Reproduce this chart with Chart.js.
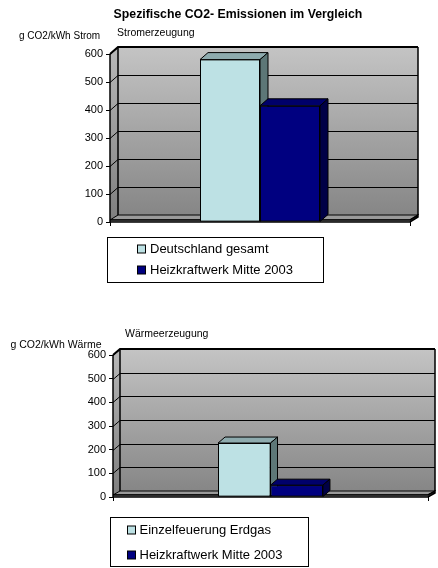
<!DOCTYPE html>
<html>
<head>
<meta charset="utf-8">
<script src="https://cdn.jsdelivr.net/npm/chart.js@4.4.1/dist/chart.umd.min.js"></script>
<style>
  html, body { margin: 0; padding: 0; background: #fff; }
  #wrap { position: relative; width: 438px; height: 568px; }
  canvas { position: absolute; left: 0; }
</style>
</head>
<body>
<div id="wrap">
  <canvas id="strom" width="438" height="290" style="top:0px"></canvas>
  <canvas id="waerme" width="438" height="278" style="top:290px"></canvas>
</div>
<script>
// ---- data ----
const stromCategories = ['Stromerzeugung'];
const stromSeriesLabels = ['Deutschland gesamt', 'Heizkraftwerk Mitte 2003'];
const stromValues = [580, 415];

const waermeCategories = ['Wärmeerzeugung'];
const waermeSeriesLabels = ['Einzelfeuerung Erdgas', 'Heizkraftwerk Mitte 2003'];
const waermeValues = [228, 50];

const yTickLabels = ['0', '100', '200', '300', '400', '500', '600'];

const chartTitle = 'Spezifische CO2- Emissionen im Vergleich';
const stromUnit = 'g CO2/kWh Strom';
const waermeUnit = 'g CO2/kWh Wärme';

// face colours for the two series: front, top, side
const seriesFaces = [
  { front: '#bde1e4', top: '#8eabae', side: '#5d7777' },
  { front: '#000080', top: '#00006a', side: '#000046' }
];

const FONT = '"Liberation Sans", Arial, sans-serif';

// Draws the 3D walls, floor, column tops/sides, texts and a boxed legend
const excel3d = {
  id: 'excel3d',
  beforeDatasetsDraw(chart, args, o) {
    const { ctx, chartArea: a, scales: { y } } = chart;
    const dx = o.dx, dy = o.dy;
    ctx.save();
    // back wall
    const g = ctx.createLinearGradient(0, a.top + dy, 0, a.bottom + dy);
    g.addColorStop(0, '#c4c4c4');
    g.addColorStop(1, '#868686');
    ctx.fillStyle = g;
    ctx.fillRect(a.left + dx, a.top + dy, a.right - a.left, a.bottom - a.top);
    // left side wall
    const gs = ctx.createLinearGradient(0, a.top, 0, a.bottom);
    gs.addColorStop(0, '#b6b6b6');
    gs.addColorStop(1, '#7e7e7e');
    ctx.fillStyle = gs;
    ctx.beginPath();
    ctx.moveTo(a.left, a.top);
    ctx.lineTo(a.left + dx, a.top + dy);
    ctx.lineTo(a.left + dx, a.bottom + dy);
    ctx.lineTo(a.left, a.bottom);
    ctx.closePath();
    ctx.fill();
    // gridlines on side and back wall
    ctx.strokeStyle = '#000';
    ctx.lineWidth = 1;
    y.ticks.forEach(t => {
      const py = Math.round(y.getPixelForValue(t.value)) + 0.5;
      ctx.beginPath();
      ctx.moveTo(a.left, py);
      ctx.lineTo(a.left + dx, py + dy);
      ctx.lineTo(a.right + dx, py + dy);
      ctx.stroke();
    });
    // top edge of back wall
    ctx.lineWidth = 2;
    ctx.beginPath();
    ctx.moveTo(a.left, a.top);
    ctx.lineTo(a.left + dx, a.top + dy);
    ctx.lineTo(a.right + dx, a.top + dy);
    ctx.stroke();
    // back vertical edges
    ctx.lineWidth = 1.5;
    ctx.beginPath();
    ctx.moveTo(a.left + dx, a.top + dy);
    ctx.lineTo(a.left + dx, a.bottom + dy);
    ctx.moveTo(a.right + dx, a.top + dy);
    ctx.lineTo(a.right + dx, a.bottom + dy);
    ctx.stroke();
    // floor slab
    const t = o.floor;
    ctx.fillStyle = '#9a9a9a';
    ctx.beginPath();
    ctx.moveTo(a.left, a.bottom - t);
    ctx.lineTo(a.left + dx, a.bottom + dy);
    ctx.lineTo(a.right + dx, a.bottom + dy);
    ctx.lineTo(a.right, a.bottom - t);
    ctx.closePath();
    ctx.fill();
    ctx.lineWidth = 1;
    ctx.stroke();
    ctx.fillStyle = '#a8a8a8';
    ctx.beginPath();
    ctx.moveTo(a.left, a.bottom - t);
    ctx.lineTo(a.right, a.bottom - t);
    ctx.lineTo(a.right + dx, a.bottom + dy);
    ctx.lineTo(a.right + dx, a.bottom + dy + t);
    ctx.lineTo(a.right, a.bottom);
    ctx.lineTo(a.left, a.bottom);
    ctx.closePath();
    ctx.fill();
    ctx.lineWidth = 1.5;
    ctx.beginPath();
    ctx.moveTo(a.left, a.bottom - t);
    ctx.lineTo(a.right, a.bottom - t);
    ctx.lineTo(a.right + dx, a.bottom + dy);
    ctx.lineTo(a.right + dx, a.bottom + dy + t);
    ctx.lineTo(a.right, a.bottom);
    ctx.lineTo(a.left, a.bottom);
    ctx.stroke();
    // front axis line
    ctx.lineWidth = 1.5;
    ctx.beginPath();
    ctx.moveTo(a.left, a.top);
    ctx.lineTo(a.left, a.bottom);
    ctx.stroke();
    ctx.restore();
  },
  afterDatasetsDraw(chart, args, o) {
    const { ctx, chartArea: a } = chart;
    const dx = o.dx, dy = o.dy;
    ctx.save();
    chart.data.datasets.forEach((ds, i) => {
      const meta = chart.getDatasetMeta(i);
      const faces = seriesFaces[i];
      meta.data.forEach(bar => {
        bar.draw(ctx, a);
        const { x, y, width, base } = bar.getProps(['x', 'y', 'width', 'base'], true);
        const l = x - width / 2, r = x + width / 2;
        ctx.strokeStyle = '#000';
        ctx.lineWidth = 1;
        ctx.lineJoin = 'round';
        // top face
        ctx.fillStyle = faces.top;
        ctx.beginPath();
        ctx.moveTo(l, y);
        ctx.lineTo(l + dx, y + dy);
        ctx.lineTo(r + dx, y + dy);
        ctx.lineTo(r, y);
        ctx.closePath();
        ctx.fill();
        ctx.stroke();
        // side face
        ctx.fillStyle = faces.side;
        ctx.beginPath();
        ctx.moveTo(r, y);
        ctx.lineTo(r + dx, y + dy);
        ctx.lineTo(r + dx, base + dy);
        ctx.lineTo(r, base);
        ctx.closePath();
        ctx.fill();
        ctx.stroke();
      });
    });
    ctx.restore();
  },
  afterDraw(chart, args, o) {
    const { ctx } = chart;
    ctx.save();
    ctx.fillStyle = '#000';
    ctx.textBaseline = 'alphabetic';
    o.texts.forEach(t => {
      ctx.font = t.font;
      ctx.textAlign = t.align || 'left';
      ctx.fillText(t.text, t.x, t.y);
    });
    // legend box
    const L = o.legend;
    ctx.strokeStyle = '#000';
    ctx.lineWidth = 1;
    ctx.strokeRect(L.x, L.y, L.w, L.h);
    ctx.font = '13px ' + FONT;
    ctx.textAlign = 'left';
    ctx.textBaseline = 'middle';
    chart.data.datasets.forEach((ds, i) => {
      const cy = L.rows[i];
      ctx.fillStyle = ds.backgroundColor;
      ctx.fillRect(L.sx + 0.5, cy - 4, 8, 8);
      ctx.strokeRect(L.sx + 0.5, cy - 4, 8, 8);
      ctx.fillStyle = '#000';
      ctx.fillText(ds.label, L.tx, cy + 0.5);
    });
    ctx.restore();
  }
};

function makeChart(id, categories, labels, values, cfg) {
  return new Chart(document.getElementById(id), {
    type: 'bar',
    data: {
      labels: categories,
      datasets: labels.map((lab, i) => ({
        label: lab,
        data: [values[i]],
        backgroundColor: seriesFaces[i].front,
        borderColor: '#000',
        borderWidth: 1,
        borderSkipped: false,
        barPercentage: 1,
        categoryPercentage: cfg.catPct
      }))
    },
    options: {
      responsive: false,
      animation: false,
      devicePixelRatio: 1,
      layout: { padding: cfg.padding },
      plugins: {
        legend: { display: false },
        tooltip: { enabled: false },
        excel3d: cfg.deco
      },
      scales: {
        x: {
          offset: true,
          border: { display: false },
          grid: { drawOnChartArea: false, drawTicks: true, tickLength: 4, color: '#000', offset: true },
          ticks: { display: false },
          afterFit(s) { s.height = 10; }
        },
        y: {
          min: 0,
          max: 600,
          border: { display: false },
          grid: { drawOnChartArea: false, drawTicks: true, tickLength: 4, color: '#000' },
          ticks: {
            stepSize: 100,
            padding: 3,
            color: '#000',
            font: { family: FONT, size: 11 },
            callback: (v, i) => yTickLabels[i]
          },
          afterFit(s) { s.width = cfg.yWidth; }
        }
      }
    },
    plugins: [excel3d]
  });
}

makeChart('strom', stromCategories, stromSeriesLabels, stromValues, {
  catPct: 0.4,
  yWidth: 110,
  padding: { left: 0, top: 54, right: 28, bottom: 58 },
  deco: {
    dx: 8, dy: -7, floor: 2,
    texts: [
      { text: chartTitle, x: 238, y: 18, font: 'bold 12.3px ' + FONT, align: 'center' },
      { text: stromUnit, x: 19, y: 39, font: '10px ' + FONT },
      { text: stromCategories[0], x: 117, y: 36, font: '10.5px ' + FONT }
    ],
    legend: { x: 107.5, y: 237.5, w: 216, h: 45, sx: 137, tx: 150, rows: [249, 270] }
  }
});

makeChart('waerme', waermeCategories, waermeSeriesLabels, waermeValues, {
  catPct: 0.333,
  yWidth: 113,
  padding: { left: 0, top: 65, right: 10, bottom: 61 },
  deco: {
    dx: 7, dy: -6, floor: 2,
    texts: [
      { text: waermeCategories[0], x: 125, y: 46.5, font: '10.5px ' + FONT },
      { text: waermeUnit, x: 10.5, y: 57.5, font: '10.5px ' + FONT }
    ],
    legend: { x: 110.5, y: 227.5, w: 198, h: 49, sx: 127, tx: 139.5, rows: [240, 265] }
  }
});
</script>
</body>
</html>
